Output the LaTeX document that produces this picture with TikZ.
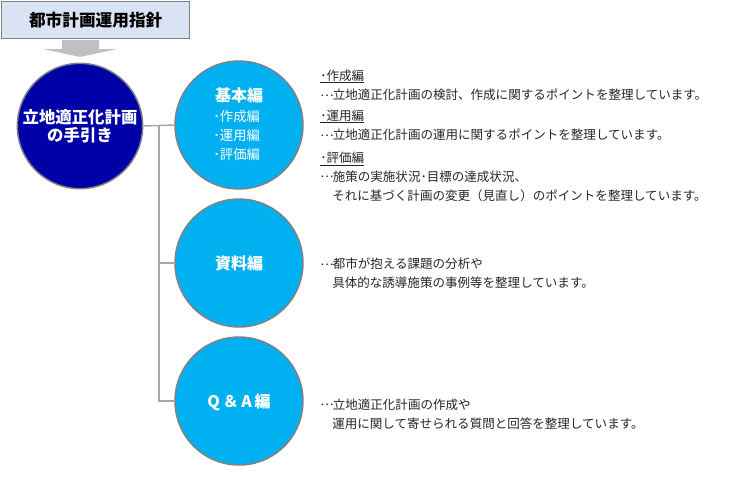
\documentclass[tikz,border=0pt]{standalone}
\usepackage{fontspec}
\setmainfont{Noto Sans CJK JP}
\definecolor{boxfill}{HTML}{DAE3F3}
\definecolor{boxline}{HTML}{7F7F7F}
\definecolor{arrowgray}{HTML}{C0C0C0}
\definecolor{darkblue}{HTML}{0000A8}
\definecolor{skyblue}{HTML}{00B0F0}
\definecolor{linegray}{HTML}{A6A6A6}
\definecolor{ringgray}{HTML}{808080}
\newcommand{\myell}{\makebox[1em][l]{\raisebox{0.3em}{\addfontfeatures{RawFeature=+fwid}…}}}
\tikzset{
  bigcirc/.style={circle, draw=ringgray, line width=1.1pt, minimum size=96pt, inner sep=0pt},
  desc/.style={anchor=west, inner sep=0pt, font=\fontsize{9.4pt}{11pt}\selectfont, text=black!85},
  head/.style={anchor=west, inner sep=0pt, font=\fontsize{9.4pt}{11pt}\selectfont, text=black!85},
  uline/.style={draw=black!85, line width=0.6pt},
  ctitle/.style={inner sep=0pt, text=white, font=\bfseries\fontsize{12pt}{14pt}\selectfont},
  citem/.style={anchor=west, inner sep=0pt, text=white, font=\fontsize{10pt}{12pt}\selectfont},
  conn/.style={draw=linegray, line width=1.1pt}
}
\begin{document}
\begin{tikzpicture}[x=0.75pt, y=-0.75pt]
\useasboundingbox (0,0) rectangle (731,476);
% top box
\node[draw=boxline, fill=boxfill, line width=1.1pt, minimum width=141pt, minimum height=27.5pt, inner sep=0pt, anchor=north west, font=\bfseries\fontsize{12.5pt}{14pt}\selectfont] (top) at (1,1) {都市計画運用指針};
% arrow
\fill[arrowgray] (62,40) -- (99,40) -- (99,49) -- (117,49) -- (80,57) -- (43,49) -- (62,49) -- cycle;
% main circle
\node[bigcirc, fill=darkblue, minimum size=94pt, text=white, align=center, font=\bfseries\fontsize{12.3pt}{13.5pt}\selectfont] (main) at (80,126) {立地適正化計画\\の手引き};
% branch circles
\node[bigcirc, fill=skyblue] (kihon) at (239,125) {};
\node[bigcirc, fill=skyblue] (shiryo) at (239,263) {};
\node[bigcirc, fill=skyblue] (qa) at (239,401) {};
% connectors
\coordinate (jn) at (159,125);
\coordinate (j2) at (159,263);
\coordinate (j3) at (159,401);
\draw[conn] (main.east) -- (kihon.west);
\draw[conn] (jn) -- (j3) -- (qa.west);
\draw[conn] (j2) -- (shiryo.west);
% circle texts
\node[ctitle] (kt) at (239,95) {基本編};
\node[citem] (k1) at (213,116) {･作成編};
\node[citem] (k2) at (213,135) {･運用編};
\node[citem] (k3) at (213,154) {･評価編};
\node[ctitle] (st) at (239,263) {資料編};
\node[ctitle] (qt) at (239,402) {Q\,＆\,A\,編};
% descriptions
\node[head] (h1) at (320,76) {･作成編};
\draw[uline] ([yshift=-1.6pt]h1.base west) -- ([yshift=-1.6pt]h1.base east);
\node[desc] (d1) at (320,95) {\myell 立地適正化計画の検討、作成に関するポイントを整理しています。};
\node[head] (h2) at (320,116) {･運用編};
\draw[uline] ([yshift=-1.6pt]h2.base west) -- ([yshift=-1.6pt]h2.base east);
\node[desc] (d2) at (320,135) {\myell 立地適正化計画の運用に関するポイントを整理しています。};
\node[head] (h3) at (320,158) {･評価編};
\draw[uline] ([yshift=-1.6pt]h3.base west) -- ([yshift=-1.6pt]h3.base east);
\node[desc] (d3) at (320,177) {\myell 施策の実施状況･目標の達成状況、};
\node[desc] (d4) at (332,196) {それに基づく計画の変更（見直し）のポイントを整理しています。};
\node[desc] (s1) at (320,264) {\myell 都市が抱える課題の分析や};
\node[desc] (s2) at (332,283) {具体的な誘導施策の事例等を整理しています。};
\node[desc] (q1) at (320,405) {\myell 立地適正化計画の作成や};
\node[desc] (q2) at (332,424) {運用に関して寄せられる質問と回答を整理しています。};
\end{tikzpicture}
\end{document}
